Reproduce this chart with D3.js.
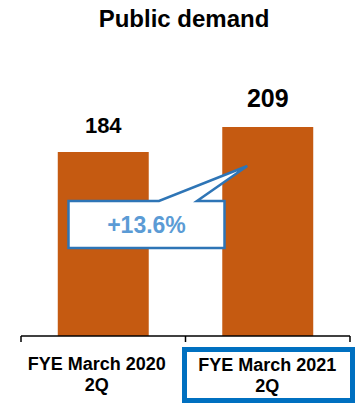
<!DOCTYPE html>
<html>
<head>
<meta charset="utf-8">
<script src="https://cdn.jsdelivr.net/npm/d3@7"></script>
<style>
  html, body { margin: 0; padding: 0; background: #fff; }
  svg { display: block; font-family: Arial, "Liberation Sans", sans-serif; }
</style>
</head>
<body>
<svg id="chart" width="357" height="405"></svg>
<script>
// Public demand, first half comparison
const categories = ["FYE March 2020\n2Q", "FYE March 2021\n2Q"];
const values = [184, 209];
const growthLabel = "+13.6%";
const chartTitle = "Public demand";

const svg = d3.select("#chart");
const W = 357, H = 405;
const baseY = 336;

const x = d3.scaleBand()
  .domain(categories)
  .range([21, 350])
  .paddingInner(0.447)
  .paddingOuter(0.2235);

const y = d3.scaleLinear()
  .domain([0, 209])
  .range([baseY, baseY - 209]);

// title
svg.append("text")
  .attr("x", 184)
  .attr("y", 27)
  .attr("text-anchor", "middle")
  .attr("font-size", 24)
  .attr("font-weight", "bold")
  .attr("fill", "#000")
  .text(chartTitle);

// bars
svg.selectAll("rect.bar")
  .data(values)
  .join("rect")
  .attr("class", "bar")
  .attr("x", (d, i) => x(categories[i]))
  .attr("width", x.bandwidth())
  .attr("y", d => y(d))
  .attr("height", d => y(0) - y(d))
  .attr("fill", "#C55A11");

// value labels
const valueSizes = [22, 25];
svg.selectAll("text.val")
  .data(values)
  .join("text")
  .attr("class", "val")
  .attr("x", (d, i) => x(categories[i]) + x.bandwidth() / 2)
  .attr("y", (d, i) => y(d) - (i === 0 ? 19 : 20))
  .attr("text-anchor", "middle")
  .attr("font-size", (d, i) => valueSizes[i])
  .attr("font-weight", "bold")
  .attr("fill", "#000")
  .text(d => d);

// category axis with separators at band edges
const x0 = x.range()[0], x1 = x.range()[1];
const edges = [x0, x0 + (x1 - x0) / 2, x1];
svg.append("line")
  .attr("x1", x0).attr("x2", x1)
  .attr("y1", baseY).attr("y2", baseY)
  .attr("stroke", "#000").attr("stroke-width", 1.5);
svg.selectAll("line.tick")
  .data(edges)
  .join("line")
  .attr("class", "tick")
  .attr("x1", d => d).attr("x2", d => d)
  .attr("y1", baseY).attr("y2", baseY + 6)
  .attr("stroke", "#000").attr("stroke-width", 1.5);

// highlight frame around the current period label
svg.append("rect")
  .attr("x", 184.5)
  .attr("y", 349.5)
  .attr("width", 168)
  .attr("height", 51)
  .attr("fill", "none")
  .attr("stroke", "#0070C0")
  .attr("stroke-width", 5);

// category labels
const labelDx = [-6.5, -0.5];
categories.forEach((c, i) => {
  const cx = x(c) + x.bandwidth() / 2 + labelDx[i];
  const lines = c.split("\n");
  const t = svg.append("text")
    .attr("text-anchor", "middle")
    .attr("font-size", 18)
    .attr("font-weight", "bold")
    .attr("fill", "#000");
  lines.forEach((ln, k) => {
    t.append("tspan")
      .attr("x", cx)
      .attr("y", (i === 0 ? 370 : 371) + k * 21)
      .text(ln);
  });
});

// growth callout pointing at the second bar
const bx0 = 68.5, bx1 = 224.5, by0 = 201, by1 = 248;
const tipX = x(categories[1]) + 25;
const tipY = y(values[1]) + 39;
const callout = d3.path();
callout.moveTo(bx0, by0);
callout.lineTo(159, by0);
callout.lineTo(tipX, tipY);
callout.lineTo(197, by0);
callout.lineTo(bx1, by0);
callout.lineTo(bx1, by1);
callout.lineTo(bx0, by1);
callout.closePath();
svg.append("path")
  .attr("d", callout.toString())
  .attr("fill", "#fff")
  .attr("stroke", "#2E75B6")
  .attr("stroke-width", 2.5)
  .attr("stroke-linejoin", "miter");

svg.append("text")
  .attr("x", 146.5)
  .attr("y", 233)
  .attr("text-anchor", "middle")
  .attr("font-size", 23)
  .attr("font-weight", "bold")
  .attr("fill", "#5B9BD5")
  .text(growthLabel);
</script>
</body>
</html>
